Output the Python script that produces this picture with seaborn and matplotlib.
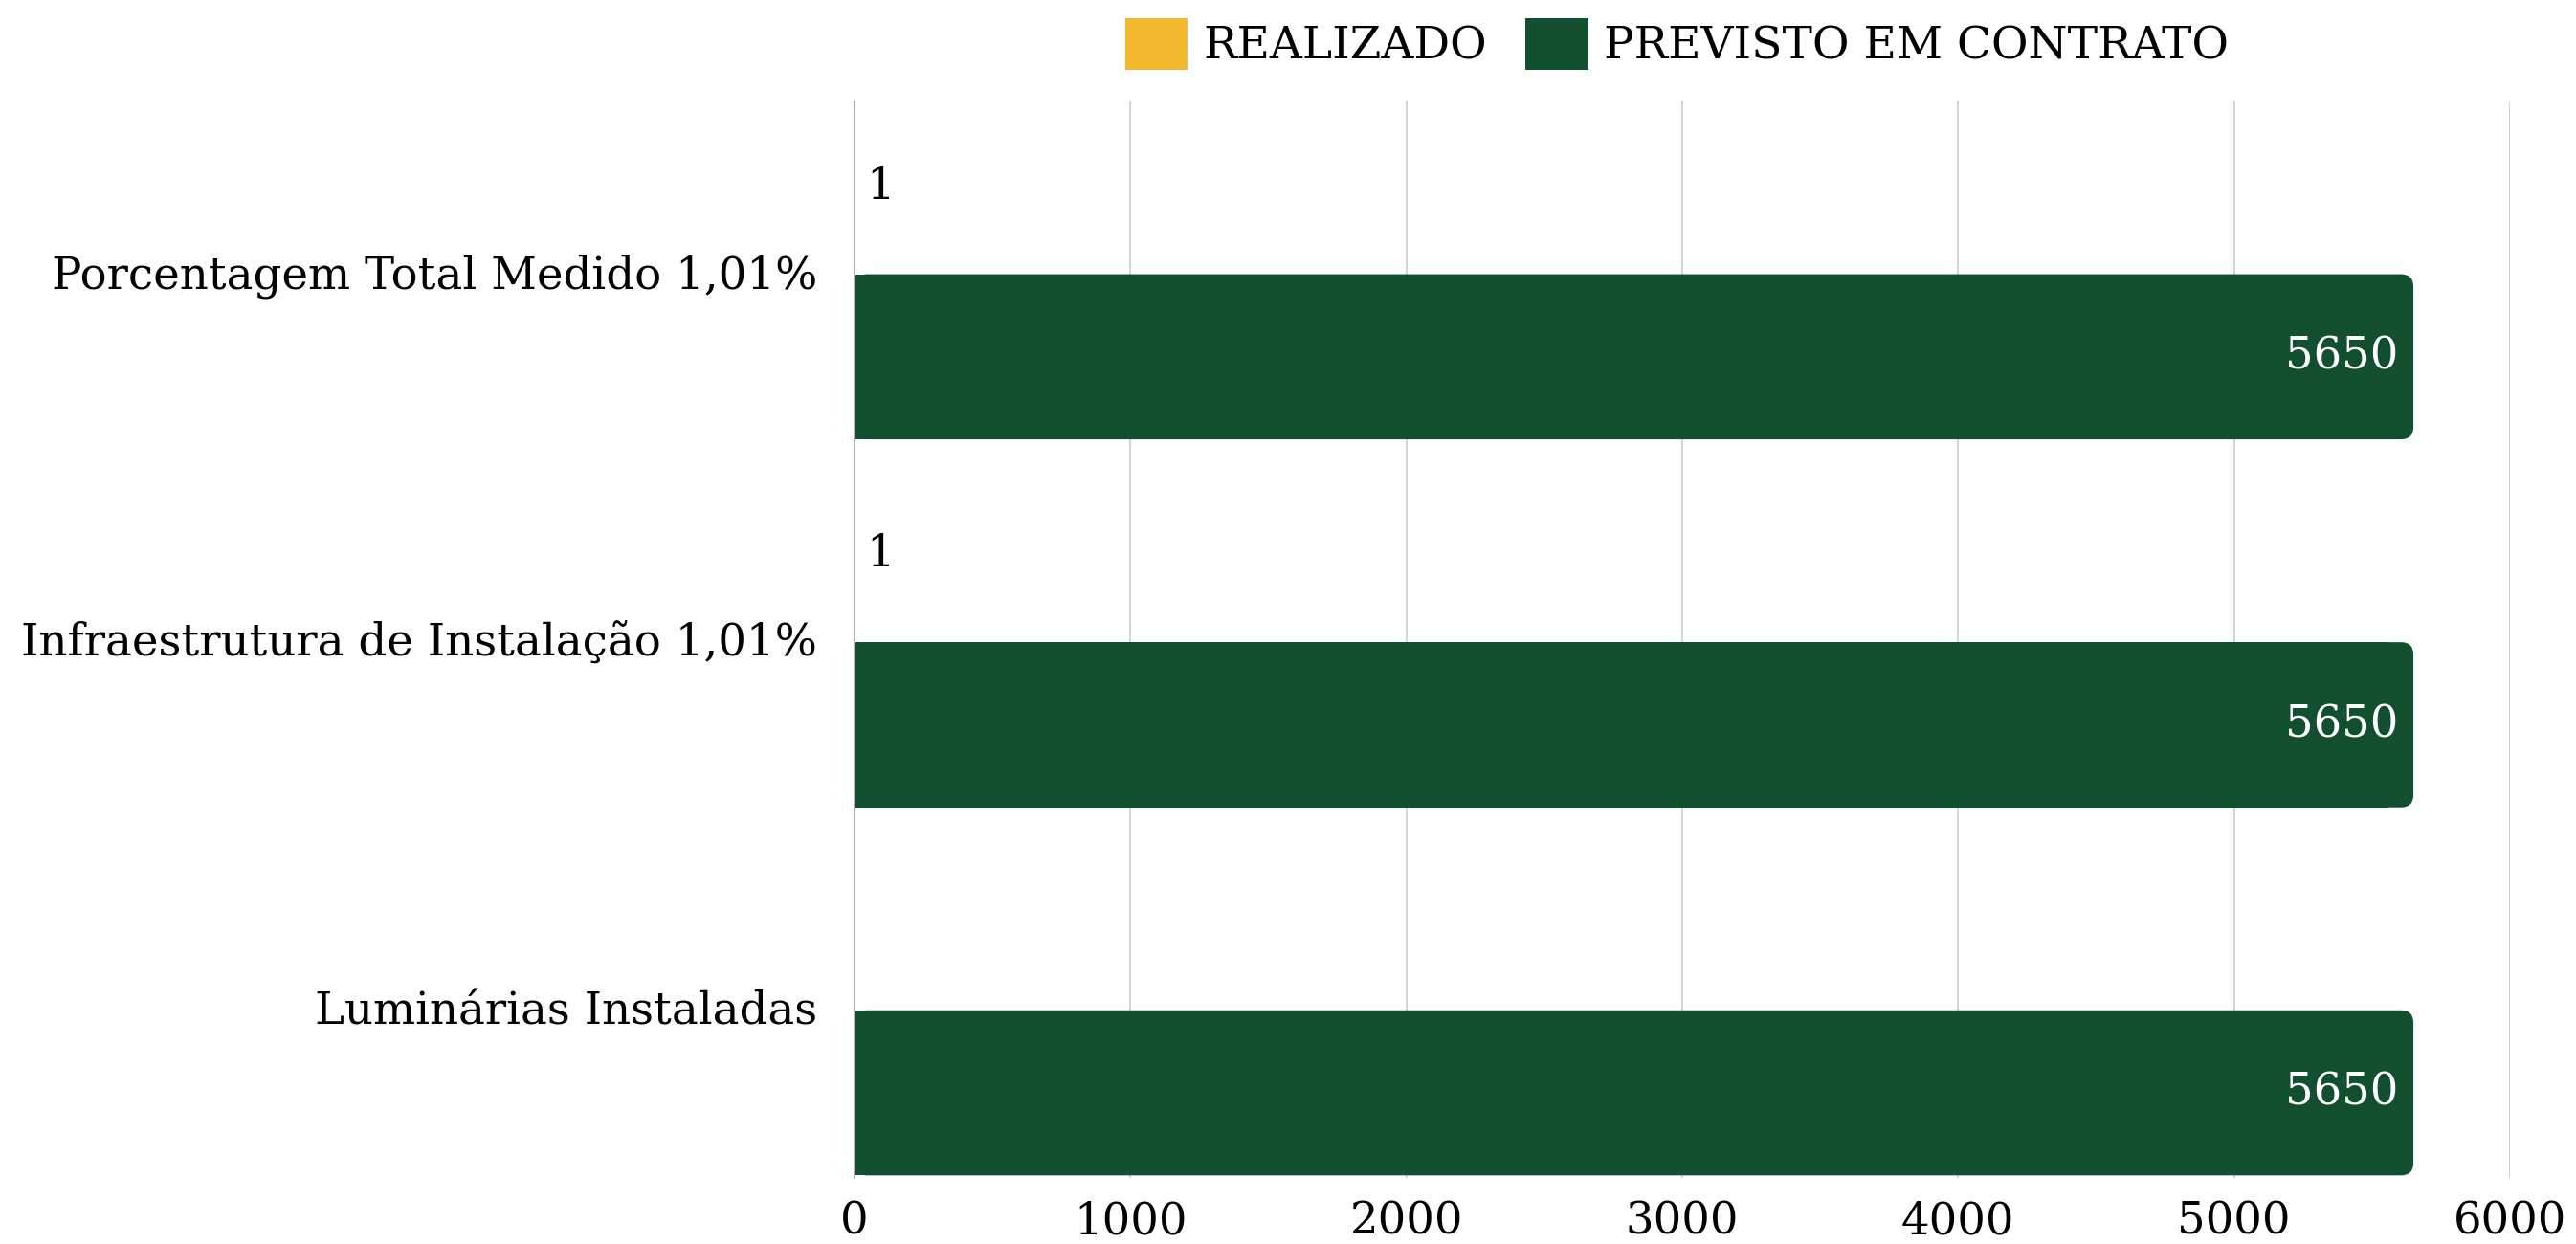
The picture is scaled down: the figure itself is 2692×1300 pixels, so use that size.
import matplotlib
matplotlib.use("Agg")
import matplotlib.pyplot as plt
import seaborn as sns
import pandas as pd
from matplotlib.patches import FancyBboxPatch

categories = ["Porcentagem Total Medido 1,01%",
              "Infraestrutura de Instalação 1,01%",
              "Luminárias Instaladas"]
realizado = [1, 1, 0]
previsto = [5650, 5650, 5650]
series_names = ["REALIZADO", "PREVISTO EM CONTRATO"]
colors = ["#F3B931", "#124F2F"]
xticks = [0, 1000, 2000, 3000, 4000, 5000, 6000]

df = pd.DataFrame({
    "cat": categories * 2,
    "val": realizado + previsto,
    "serie": [series_names[0]] * 3 + [series_names[1]] * 3,
})

sns.set_theme(style="white")
plt.rcParams["font.family"] = ["DejaVu Serif"]
plt.rcParams["text.color"] = "black"
plt.rcParams["xtick.color"] = "black"
plt.rcParams["ytick.color"] = "black"

FS = 33.5
W, H = 2692, 1300
fig = plt.figure(figsize=(W / 100, H / 100), dpi=100)
ax = fig.add_axes([893 / W, 1 - 1231 / H, (2623 - 893) / W, (1231 - 106) / H])

sns.barplot(data=df, y="cat", x="val", hue="serie", order=categories,
            hue_order=series_names, palette=colors, orient="h",
            width=0.925, gap=0.03, ax=ax, legend=True, saturation=1,
            edgecolor="none", linewidth=0)

ax.set_xlim(0, 6000)
ax.set_ylim(2.4625, -0.4625)
ax.set_xticks(xticks)
ax.set_xticklabels([str(t) for t in xticks])
ax.set_xlabel("")
ax.set_ylabel("")
ax.grid(axis="x", color="#D3D3D3", linewidth=1.4)
ax.grid(axis="y", visible=False)
ax.set_axisbelow(True)
for s in ["top", "right", "bottom"]:
    ax.spines[s].set_visible(False)
ax.spines["left"].set_color("#9E9E9E")
ax.spines["left"].set_linewidth(1.2)
ax.tick_params(axis="x", length=0, pad=17, labelsize=FS, labelcolor="black")
ax.tick_params(axis="y", length=0, pad=28, labelsize=33.6, labelcolor="black")

# value labels and rounded right corners
containers = ax.containers
xr = 6000 / (2623 - 893)          # data units per pixel (x)
yr = 2.925 / (1231 - 106)         # data units per pixel (y)
rad_px = 13
for ci, cont in enumerate(containers):
    vals = realizado if ci == 0 else previsto
    for bar, v in zip(cont, vals):
        x0, y0 = bar.get_x(), bar.get_y()
        w, h = bar.get_width(), bar.get_height()
        yc = y0 + h / 2
        if ci == 0:
            if v:
                ax.annotate(str(v), (v, yc), xytext=(9, 0), textcoords="offset points",
                            ha="left", va="center", fontsize=FS, color="black")
        else:
            r = rad_px * xr
            bar.set_width(w - 2 * r)
            fp = FancyBboxPatch((x0, y0), w, h,
                                boxstyle=f"round,pad=0,rounding_size={r}",
                                mutation_aspect=yr / xr,
                                facecolor=colors[1], edgecolor="none", zorder=bar.get_zorder())
            ax.add_patch(fp)
            ax.annotate(str(v), (v, yc), xytext=(-11, 0), textcoords="offset points",
                        ha="right", va="center", fontsize=FS, color="white")

handles, labels = ax.get_legend_handles_labels()
ax.get_legend().remove()
fig.legend(handles, labels, loc="center", bbox_to_anchor=(0.651, 1 - 46 / H),
           ncol=2, frameon=False, fontsize=33.8, handlelength=1.4, handleheight=1.4,
           handletextpad=0.35, columnspacing=0.85, borderaxespad=0)

fig.savefig("out.png", dpi=100, facecolor="white")
